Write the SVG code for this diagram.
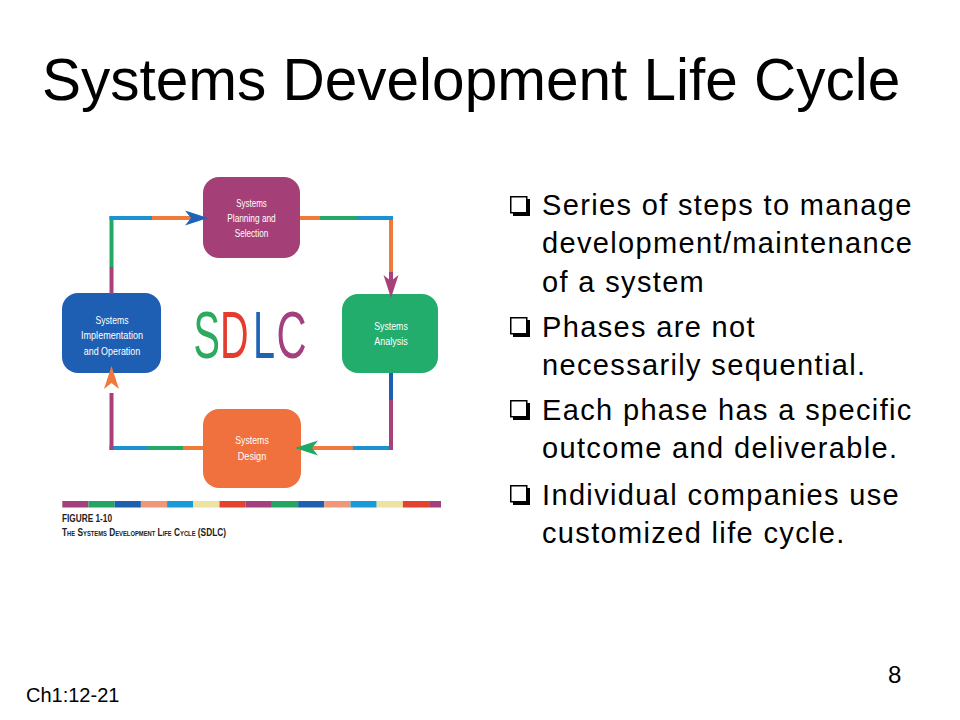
<svg xmlns="http://www.w3.org/2000/svg" width="960" height="720" viewBox="0 0 960 720">
<style>
.title{font-family:"Liberation Sans",Arial,sans-serif;font-size:58.5px;fill:#000}
.bul{font-family:"Liberation Sans",Arial,sans-serif;font-size:29px;letter-spacing:1.35px;fill:#000}
.foot{font-family:"Liberation Sans",Arial,sans-serif;fill:#000}
.nt{font-family:"Liberation Sans",Arial,sans-serif;font-size:11.5px;fill:#fff;text-anchor:middle}
.cap{font-family:"Liberation Sans",Arial,sans-serif;font-weight:bold;fill:#222}
.big{font-family:"Liberation Sans",Arial,sans-serif;font-size:66px}
.ln{fill:none;stroke-width:4;stroke-linecap:butt}
.pu{stroke:#a8407a}.gr{stroke:#24a865}.bl{stroke:#1a93d0}.db{stroke:#1f5fb3}.or{stroke:#f07a3c}
</style>
<defs>
<path id="ah" d="M0,0 L-23,-7.5 L-17,0 L-23,7.5 Z"/>
<g id="box"><rect x="3" y="3" width="17" height="17" fill="#000"/><rect x="0.75" y="0.75" width="16" height="16" fill="#fff" stroke="#000" stroke-width="1.5"/></g>
</defs>
<rect width="960" height="720" fill="#fff"/>
<text class="title" x="42" y="100">Systems Development Life Cycle</text>

<g id="node-planning">
<rect x="203" y="177" width="97" height="81" rx="16" fill="#a53f77"/>
<text class="nt" x="251.5" y="207" textLength="30.5" lengthAdjust="spacingAndGlyphs">Systems</text>
<text class="nt" x="251.5" y="222" textLength="48.5" lengthAdjust="spacingAndGlyphs">Planning and</text>
<text class="nt" x="251.5" y="237" textLength="33.5" lengthAdjust="spacingAndGlyphs">Selection</text>
</g>
<g id="node-analysis">
<rect x="342" y="294" width="96" height="79" rx="16" fill="#23ad6c"/>
<text class="nt" x="391" y="330" textLength="33.5" lengthAdjust="spacingAndGlyphs">Systems</text>
<text class="nt" x="391" y="345" textLength="33.5" lengthAdjust="spacingAndGlyphs">Analysis</text>
</g>
<g id="node-design">
<rect x="203" y="409" width="98" height="79" rx="16" fill="#f0703e"/>
<text class="nt" x="252" y="444" textLength="33.5" lengthAdjust="spacingAndGlyphs">Systems</text>
<text class="nt" x="252" y="460" textLength="28.5" lengthAdjust="spacingAndGlyphs">Design</text>
</g>
<g id="node-implementation">
<rect x="62" y="293" width="99" height="80" rx="16" fill="#1f5fb3"/>
<text class="nt" x="112" y="323.5" textLength="33" lengthAdjust="spacingAndGlyphs">Systems</text>
<text class="nt" x="112" y="339" textLength="62" lengthAdjust="spacingAndGlyphs">Implementation</text>
<text class="nt" x="112" y="354.5" textLength="56.5" lengthAdjust="spacingAndGlyphs">and Operation</text>
</g>

<g id="connectors">
<line class="ln pu" x1="111.5" y1="294" x2="111.5" y2="267"/>
<line class="ln gr" x1="111.5" y1="267" x2="111.5" y2="216"/>
<line class="ln bl" x1="109.5" y1="218" x2="152" y2="218"/>
<line class="ln or" x1="152" y1="218" x2="192" y2="218"/>
<use href="#ah" transform="translate(208,218)" fill="#1f63b8"/>
<line class="ln or" x1="300" y1="218" x2="320" y2="218"/>
<line class="ln gr" x1="320" y1="218" x2="357" y2="218"/>
<line class="ln bl" x1="357" y1="218" x2="393" y2="218"/>
<line class="ln or" x1="391" y1="220" x2="391" y2="272"/>
<line class="ln pu" x1="391" y1="272" x2="391" y2="284"/>
<use href="#ah" transform="translate(391,298) rotate(90)" fill="#a8407a"/>
<line class="ln db" x1="391" y1="373" x2="391" y2="400"/>
<line class="ln pu" x1="391" y1="400" x2="391" y2="450"/>
<line class="ln bl" x1="389" y1="448" x2="353" y2="448"/>
<line class="ln or" x1="353" y1="448" x2="311" y2="448"/>
<use href="#ah" transform="translate(295,448) rotate(180)" fill="#22a865"/>
<line class="ln or" x1="203" y1="448" x2="183" y2="448"/>
<line class="ln gr" x1="183" y1="448" x2="147" y2="448"/>
<line class="ln bl" x1="147" y1="448" x2="109.5" y2="448"/>
<line class="ln pu" x1="111.5" y1="450" x2="111.5" y2="393"/>
<use href="#ah" transform="translate(111.5,366) rotate(-90)" fill="#f07a3c"/>
</g>

<g id="sdlc">
<text class="big" transform="translate(193.5,358) scale(0.6,1)" fill="#2daa5e">S</text>
<text class="big" transform="translate(220,358) scale(0.6,1)" fill="#e43d2f">D</text>
<text class="big" transform="translate(253,358) scale(0.6,1)" fill="#1f63b5">L</text>
<text class="big" transform="translate(276.5,358) scale(0.63,1)" fill="#a3407e">C</text>
</g>

<g id="strip">
<rect x="62.3" y="501" width="26.2" height="6.5" fill="#a3407e"/>
<rect x="88.5" y="501" width="26.2" height="6.5" fill="#24a564"/>
<rect x="114.7" y="501" width="26.2" height="6.5" fill="#1e5fb0"/>
<rect x="140.9" y="501" width="26.2" height="6.5" fill="#f0977a"/>
<rect x="167.1" y="501" width="26.2" height="6.5" fill="#1a9ad6"/>
<rect x="193.3" y="501" width="26.2" height="6.5" fill="#ece3a0"/>
<rect x="219.5" y="501" width="26.2" height="6.5" fill="#e4412f"/>
<rect x="245.7" y="501" width="26.2" height="6.5" fill="#a3407e"/>
<rect x="271.9" y="501" width="26.2" height="6.5" fill="#24a564"/>
<rect x="298.1" y="501" width="26.2" height="6.5" fill="#1e5fb0"/>
<rect x="324.3" y="501" width="26.2" height="6.5" fill="#f0977a"/>
<rect x="350.5" y="501" width="26.2" height="6.5" fill="#1a9ad6"/>
<rect x="376.7" y="501" width="26.2" height="6.5" fill="#ece3a0"/>
<rect x="402.9" y="501" width="26.2" height="6.5" fill="#e4412f"/>
<rect x="429.1" y="501" width="11.9" height="6.5" fill="#a3407e"/>
</g>
<text class="cap" x="62" y="521.5" font-size="11" textLength="50" lengthAdjust="spacingAndGlyphs">FIGURE 1-10</text>
<text class="cap" x="62" y="535.5" font-size="10" font-variant="small-caps" textLength="164" lengthAdjust="spacingAndGlyphs">The Systems Development Life Cycle (SDLC)</text>

<g id="bullets">
<use href="#box" x="510" y="196"/>
<use href="#box" x="510" y="317"/>
<use href="#box" x="510" y="400"/>
<use href="#box" x="510" y="485"/>
<text class="bul" x="542" y="215">Series of steps to manage</text>
<text class="bul" x="542" y="253.3">development/maintenance</text>
<text class="bul" x="542" y="291.7">of a system</text>
<text class="bul" x="542" y="336.7">Phases are not</text>
<text class="bul" x="542" y="375">necessarily sequential.</text>
<text class="bul" x="542" y="420">Each phase has a specific</text>
<text class="bul" x="542" y="458.3">outcome and deliverable.</text>
<text class="bul" x="542" y="505">Individual companies use</text>
<text class="bul" x="542" y="543.3">customized life cycle.</text>
</g>

<text class="foot" x="26" y="701.5" font-size="20">Ch1:12-21</text>
<text class="foot" x="888" y="683.3" font-size="24">8</text>
</svg>
